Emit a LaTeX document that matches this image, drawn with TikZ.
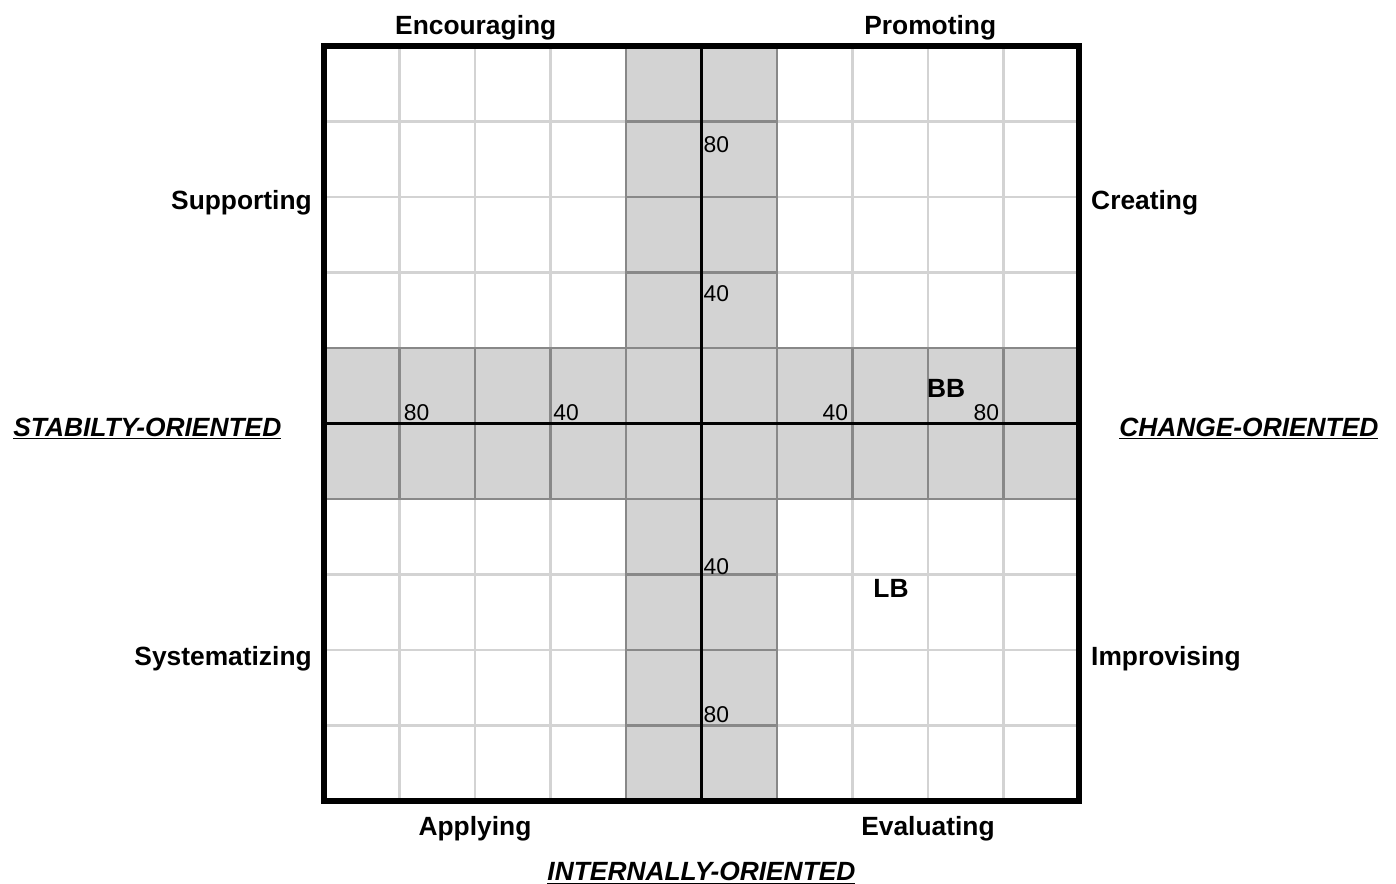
\documentclass[tikz,border=0pt]{standalone}
\usepackage{fontspec}
\setmainfont{Liberation Sans}
\definecolor{cellgray}{HTML}{D3D3D3}
\definecolor{linegray}{HTML}{D3D3D3}
\definecolor{bandline}{HTML}{888888}

\begin{document}
\begin{tikzpicture}[x=1.51cm,y=1.51cm,
  thingrid/.style={linegray,line width=1.5pt},
  bandcell/.style={draw=bandline,fill=cellgray,line width=1.5pt},
  sidelabel/.style={font=\fontsize{15}{18}\selectfont\bfseries},
  axislabel/.style={font=\fontsize{15}{18}\selectfont\bfseries\itshape},
  value/.style={font=\fontsize{13}{15}\selectfont,inner sep=1pt}]
\useasboundingbox (-4.291,-1.099) rectangle (14.199,10.609);

\foreach \i in {1,...,9} {
  \draw[thingrid] (\i,0) -- (\i,10);
  \draw[thingrid] (0,\i) -- (10,\i);
}
\foreach \j in {0,...,9} {
  \draw[bandcell] (4,\j) rectangle (5,\j+1);
  \draw[bandcell] (5,\j) rectangle (6,\j+1);
  \draw[bandcell] (\j,4) rectangle (\j+1,5);
  \draw[bandcell] (\j,5) rectangle (\j+1,6);
}
\draw[line width=1.8pt] (5,0) -- (5,10);
\draw[line width=1.8pt] (0,5) -- (10,5);
\draw[line width=3.4pt] (0,0) rectangle (10,10);

\node[sidelabel] (encouraging) at (2.01,10.24) {Encouraging};
\node[sidelabel] (promoting) at (8.03,10.24) {Promoting};
\node[sidelabel,anchor=east] (supporting) at (-0.08,7.92) {Supporting};
\node[sidelabel,anchor=west] (creating) at (10.08,7.92) {Creating};
\node[sidelabel,anchor=east] (systematizing) at (-0.08,1.89) {Systematizing};
\node[sidelabel,anchor=west] (improvising) at (10.08,1.89) {Improvising};
\node[sidelabel] (applying) at (2,-0.37) {Applying};
\node[sidelabel] (evaluating) at (8,-0.37) {Evaluating};

\node[axislabel] (stability) at (-2.34,4.93) {\underline{STABILTY-ORIENTED}};
\node[axislabel] (change) at (12.25,4.93) {\underline{CHANGE-ORIENTED}};
\node[axislabel] (internal) at (5,-0.96) {\underline{INTERNALLY-ORIENTED}};

\node[value,anchor=west] (v80top) at (5,8.69) {80};
\node[value,anchor=west] (v40top) at (5,6.72) {40};
\node[value,anchor=west] (v40bot) at (5,3.11) {40};
\node[value,anchor=west] (v80bot) at (5,1.14) {80};
\node[value,anchor=west] (v80left) at (1.03,5.15) {80};
\node[value,anchor=west] (v40left) at (3.01,5.15) {40};
\node[value,anchor=east] (v40right) at (6.97,5.15) {40};
\node[value,anchor=east] (v80right) at (8.97,5.15) {80};

\node[sidelabel] (bb) at (8.24,5.47) {BB};
\node[sidelabel] (lb) at (7.51,2.81) {LB};
\end{tikzpicture}
\end{document}
